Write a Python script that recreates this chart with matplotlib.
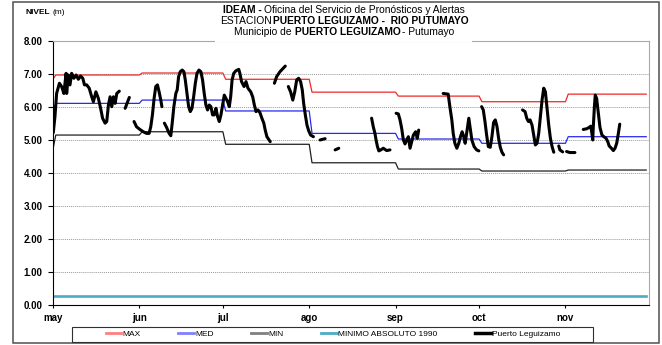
import numpy as np
import matplotlib
matplotlib.use("Agg")
import matplotlib.pyplot as plt
from matplotlib.lines import Line2D
from matplotlib.patches import Rectangle

plt.rcParams['font.family'] = ['Liberation Sans', 'DejaVu Sans']

nan = np.nan

# eje x: dias contados desde el 1 de mayo
meses = ['may', 'jun', 'jul', 'ago', 'sep', 'oct', 'nov']
inicio_mes = [0, 31, 61, 92, 123, 153, 184]
fin_periodo = 213

# valores mensuales de referencia (m); el primero es el valor de abril
max_abril, max_mes = 6.85, [6.97, 7.03, 6.84, 6.45, 6.33, 6.16, 6.39]
med_abril, med_mes = 5.85, [6.11, 6.21, 5.88, 5.20, 5.03, 4.90, 5.10]
min_abril, min_mes = 4.72, [5.15, 5.25, 4.87, 4.31, 4.12, 4.06, 4.09]
minimo_absoluto = 0.28

# niveles observados Puerto Leguizamo (nan = sin dato)
dias = [0.1, 0.7, 1.3, 2.3, 3.1, 3.9, 4.7, 4.9, 5.5, 6.1, 6.7, 7.5, 8.3, 9.1, 9.9, 10.7, 11.3, 12.1, 13.0,
        13.9, 14.5, 15.4, 16.3, 17.1, 17.8, 18.7, 19.3, 19.9, 20.5, 21.1, 21.7, 22.3, 22.9, 23.8, nan,
        25.9, 27.4, nan,
        29.1, 30.0, 31.2, 32.4, 33.6, 34.5, 35.1, 35.7, 36.3, 36.9, 37.5, 38.1, 38.7, 39.1, nan,
        40.0, 40.8, 41.7, 42.3, 42.8, 43.4, 44.1, 44.6, 45.1, 45.7, 46.4, 47.0, 47.5, 48.1, 48.7, 49.3,
        49.9, 50.5, 51.1, 51.7, 52.4, 53.1, 53.7, 54.3, 54.9, 55.5, 56.1, 56.7, 57.3, 57.9, 58.5, 59.1,
        59.7, 60.3, 60.9, 61.5, 62.1, 62.7, 63.3, 63.8, 64.3, 64.9, 65.7, 66.7, 67.1, 67.7, 68.6, 69.3,
        70.0, 71.0, 71.7, 72.3, 72.9, 73.6, 74.3, 75.0, 75.7, 76.2, 76.8, 77.6, 78.0, nan,
        79.5, 80.3, 81.5, 83.4, nan,
        84.5, 85.3, 86.1, 86.8, 87.5, 88.2, 88.9, 89.5, 90.0, 90.6, 91.2, 91.8, 92.5, 93.5, nan,
        95.9, 97.7, nan,
        101.3, 102.6, nan,
        114.4, 115.0, 115.6, 116.0, 116.5, 117.0, 117.7, 118.6, 119.8, 121.0, nan,
        123.2, 124.0, 124.6, 125.2, 125.8, 126.4, 127.0, 127.6, 128.2, 128.8, 129.4, 130.2, 130.8, 131.3, nan,
        140.1, 141.9, 142.5, 143.2, 143.7, 144.3, 145.0, 145.7, 146.3, 146.9, 147.5, 148.0, 148.7, 149.3,
        149.8, 150.4, 151.2, 152.1, 152.9, nan,
        153.9, 154.5, 155.1, 155.7, 156.3, 157.0, 157.6, 158.2, 158.8, 159.4, 160.0, 160.6, 161.2, 161.8, nan,
        168.6, 169.5, 170.1, 170.7, 171.3, 172.0, 172.6, 173.2, 173.8, 174.4, 175.0, 175.6, 176.2, 176.8,
        177.4, 178.0, 178.6, 179.2, 179.8, nan,
        181.6, 182.0, 183.0, nan,
        184.4, 185.6, 187.4, nan,
        190.4, 191.6, 192.5, 193.1, 193.5, 193.8, 194.0, 194.4, 194.7, 195.2, 195.8, 196.4, 197.1, 197.8,
        198.6, 199.2, 199.7, 200.5, 201.2, 201.8, 202.4, 203.0, 203.5]
nivel = [5.22, 5.71, 6.41, 6.72, 6.62, 6.41, 7.02, 6.41, 6.97, 6.67, 7.02, 6.87, 6.97, 6.84, 6.94, 6.87, 6.67,
         6.67, 6.57, 6.31, 6.16, 6.46, 6.26, 5.96, 5.66, 5.51, 5.56, 6.06, 6.31, 6.01, 6.31, 6.11, 6.41, 6.48, nan,
         5.96, 6.29, nan,
         5.56, 5.40, 5.32, 5.25, 5.20, 5.20, 5.40, 5.76, 6.26, 6.62, 6.67, 6.46, 6.21, 6.01, nan,
         5.51, 5.38, 5.20, 5.13, 5.51, 6.01, 6.41, 6.52, 6.92, 7.07, 7.12, 7.07, 6.82, 6.41, 6.01, 5.86,
         5.96, 6.31, 6.72, 7.02, 7.12, 7.07, 6.82, 6.41, 6.06, 5.91, 6.06, 6.01, 5.76, 5.76, 5.96, 5.71,
         5.56, 5.76, 6.06, 6.36, 6.26, 6.16, 6.01, 6.31, 6.82, 7.02, 7.10, 7.14, 7.02, 6.77, 6.62, 6.77,
         6.57, 6.46, 6.31, 6.06, 5.86, 5.91, 5.83, 5.66, 5.51, 5.30, 5.10, 5.00, 4.95, nan,
         6.72, 6.92, 7.07, 7.24, nan,
         6.62, 6.46, 6.21, 6.46, 6.82, 6.87, 6.77, 6.52, 6.11, 5.76, 5.45, 5.28, 5.15, 5.10, nan,
         5.00, 5.04, nan,
         4.70, 4.75, nan,
         5.66, 5.40, 5.20, 5.00, 4.80, 4.67, 4.70, 4.75, 4.68, 4.70, nan,
         5.81, 5.79, 5.61, 5.35, 5.00, 4.88, 5.00, 5.10, 4.75, 4.95, 5.15, 5.25, 5.05, 5.30, nan,
         6.41, 6.39, 6.01, 5.61, 5.20, 4.90, 4.75, 4.90, 5.10, 5.25, 5.10, 4.90, 5.30, 5.66,
         5.35, 5.00, 4.80, 4.70, 4.67, nan,
         6.01, 5.91, 5.56, 5.15, 4.80, 4.78, 5.10, 5.53, 5.61, 5.42, 5.05, 4.78, 4.63, 4.55, nan,
         5.91, 5.86, 5.66, 5.56, 5.61, 5.45, 5.15, 4.85, 4.90, 5.20, 5.71, 6.21, 6.57, 6.46,
         5.96, 5.45, 5.05, 4.80, 4.63, nan,
         4.82, 4.70, 4.64, nan,
         4.65, 4.62, 4.62, nan,
         5.32, 5.34, 5.38, 5.42, 5.20, 5.00, 5.40, 6.01, 6.36, 6.26, 5.81, 5.38, 5.15, 5.10,
         5.05, 4.95, 4.82, 4.75, 4.68, 4.75, 4.90, 5.20, 5.48]


def escalones(abril, mensual):
    # cada mes arranca el dia siguiente al inicio, rampa de un dia
    xs, ys = [0], [abril]
    fines = inicio_mes[1:] + [fin_periodo]
    for ini, fin, v in zip(inicio_mes, fines, mensual):
        xs += [ini + 1, fin]
        ys += [v, v]
    return xs, ys


W, H = 662, 345
fig = plt.figure(figsize=(W / 100, H / 100), dpi=100)
ax = fig.add_axes([53 / W, 1 - 305 / H, (649 - 53) / W, 264 / H])

x, y = escalones(max_abril, max_mes)
ax.plot(x, y, color='#F02828', lw=0.9)
x, y = escalones(med_abril, med_mes)
ax.plot(x, y, color='#2828F0', lw=0.9)
x, y = escalones(min_abril, min_mes)
ax.plot(x, y, color='#202020', lw=0.9)
ax.plot([0, fin_periodo], [minimo_absoluto, minimo_absoluto], color='#4BACC6', lw=1.9)
ax.plot(dias, nivel, color='black', lw=2.2, solid_capstyle='round', solid_joinstyle='round')

ax.set_xlim(0, 214)
ax.set_ylim(0, 8)
ax.set_yticks(np.arange(0, 9))
ax.set_yticklabels(['%.2f' % v for v in range(9)], fontsize=7, fontweight='bold')
ax.set_xticks(inicio_mes)
ax.set_xticklabels(meses, fontsize=7, fontweight='bold')
ax.tick_params(axis='y', direction='out', length=3.5, width=0.8, pad=4)
ax.tick_params(axis='x', direction='out', length=2.5, width=0.8, pad=3)
ax.grid(axis='y', color='#9A9A9A', lw=0.7, linestyle=(0, (1, 1)))
ax.set_axisbelow(True)
for s in ['top', 'right']:
    ax.spines[s].set_color('#A8A8A8')
    ax.spines[s].set_linewidth(0.8)
for s in ['left', 'bottom']:
    ax.spines[s].set_color('black')
    ax.spines[s].set_linewidth(0.8)

# marco exterior del grafico
fig.patches.append(Rectangle((13 / W, 1 - 342.5 / H), (659 - 13) / W, 341 / H,
                             transform=fig.transFigure, fill=False, ec='#505050', lw=1.1, zorder=4))
# fondo blanco del titulo
fig.patches.append(Rectangle((215 / W, 1 - 42 / H), (472 - 215) / W, 38 / H,
                             transform=fig.transFigure, fc='white', ec='none', zorder=5))


def linea_titulo(yp, partes, size=7.4, xc=344):
    r = fig.canvas.get_renderer()
    textos, anchos = [], []
    for s, peso, sep in partes:
        t = fig.text(0, 1 - yp / H, s, fontsize=size, fontweight=peso, va='center', ha='left', zorder=6)
        textos.append(t)
        anchos.append(t.get_window_extent(r).width + sep)
    xpos = xc - sum(anchos) / 2
    for t, a in zip(textos, anchos):
        t.set_x(xpos / W)
        xpos += a


linea_titulo(10, [('IDEAM -', 'bold', 3), ('Oficina del Servicio de Pronósticos y Alertas', 'normal', 0)])
linea_titulo(21, [('ESTACION', 'normal', 1), ('PUERTO LEGUIZAMO -  RIO PUTUMAYO', 'bold', 0)])
linea_titulo(32, [('Municipio de', 'normal', 3), ('PUERTO LEGUIZAMO', 'bold', 1), ('- Putumayo', 'normal', 0)])

r = fig.canvas.get_renderer()
t = fig.text(26 / W, 1 - 13 / H, 'NIVEL', fontsize=6, fontweight='bold', va='center', ha='left')
fig.text((26 + t.get_window_extent(r).width + 2) / W, 1 - 13 / H, '(m)', fontsize=6, va='center', ha='left')

# leyenda
fig.patches.append(Rectangle((72 / W, 1 - 341.5 / H), (593 - 72) / W, 14.5 / H,
                             transform=fig.transFigure, fill=False, ec='#303030', lw=0.8, zorder=4))
handles = [Line2D([], [], color='#FF8080', lw=2),
           Line2D([], [], color='#8080FF', lw=2),
           Line2D([], [], color='#808080', lw=2),
           Line2D([], [], color='#4BACC6', lw=2),
           Line2D([], [], color='black', lw=2.5)]
labels = ['MAX', 'MED', 'MIN', 'MINIMO ABSOLUTO 1990', 'Puerto Leguizamo']
fig.legend(handles, labels, loc='center', bbox_to_anchor=(333 / W, 1 - 334 / H), ncol=5, frameon=False,
           fontsize=6, handlelength=1.9, handletextpad=0.15, columnspacing=4.5, borderpad=0)

fig.savefig('out.png', dpi=100)
